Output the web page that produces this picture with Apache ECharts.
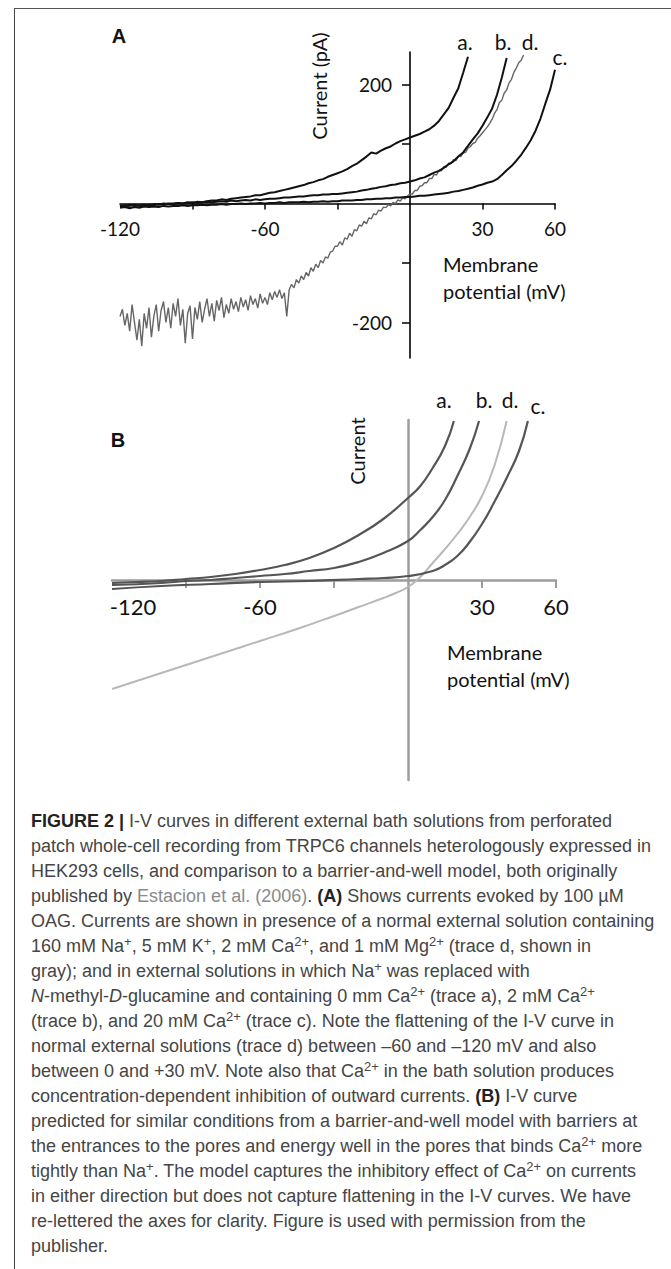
<!DOCTYPE html>
<html><head><meta charset="utf-8">
<script src="https://cdn.jsdelivr.net/npm/echarts@6/dist/echarts.min.js"></script>
<style>
html,body{margin:0;padding:0;background:#fff;}
body{width:671px;height:1269px;position:relative;overflow:hidden;}
#frame{position:absolute;left:14px;top:8px;width:657px;height:1261px;border-top:1px solid #555;border-left:1px solid #444;box-sizing:border-box;}
#chart{position:absolute;left:0;top:0;width:671px;height:790px;}
#cap{position:absolute;left:31px;top:809px;font-family:"Liberation Sans",Arial,sans-serif;font-size:18px;line-height:25px;color:#454545;white-space:nowrap;}
#cap b{color:#222;}
#cap .ref{color:#8a8a8a;}
#cap sup{font-size:0.72em;line-height:0;vertical-align:0.5em;}
</style></head>
<body>
<div id="frame"></div>
<div id="chart"></div>
<div id="cap">
<div><b>FIGURE 2 |</b> I-V curves in different external bath solutions from perforated</div>
<div>patch whole-cell recording from TRPC6 channels heterologously expressed in</div>
<div>HEK293 cells, and comparison to a barrier-and-well model, both originally</div>
<div>published by <span class="ref">Estacion et al. (2006)</span>. <b>(A)</b> Shows currents evoked by 100 µM</div>
<div>OAG. Currents are shown in presence of a normal external solution containing</div>
<div>160 mM Na<sup>+</sup>, 5 mM K<sup>+</sup>, 2 mM Ca<sup>2+</sup>, and 1 mM Mg<sup>2+</sup> (trace d, shown in</div>
<div>gray); and in external solutions in which Na<sup>+</sup> was replaced with</div>
<div><i>N</i>-methyl-<i>D</i>-glucamine and containing 0 mm Ca<sup>2+</sup> (trace a), 2 mM Ca<sup>2+</sup></div>
<div>(trace b), and 20 mM Ca<sup>2+</sup> (trace c). Note the flattening of the I-V curve in</div>
<div>normal external solutions (trace d) between –60 and –120 mV and also</div>
<div>between 0 and +30 mV. Note also that Ca<sup>2+</sup> in the bath solution produces</div>
<div>concentration-dependent inhibition of outward currents. <b>(B)</b> I-V curve</div>
<div>predicted for similar conditions from a barrier-and-well model with barriers at</div>
<div>the entrances to the pores and energy well in the pores that binds Ca<sup>2+</sup> more</div>
<div>tightly than Na<sup>+</sup>. The model captures the inhibitory effect of Ca<sup>2+</sup> on currents</div>
<div>in either direction but does not capture flattening in the I-V curves. We have</div>
<div>re-lettered the axes for clarity. Figure is used with permission from the</div>
<div>publisher.</div>
</div>
<script>
// ---------- Panel A: recorded currents (pA) vs membrane potential (mV) ----------
const voltsA2 = [-120,-118,-116,-114,-112,-110,-108,-106,-104,-102,-100,-98,-96,-94,-92,-90,-88,-86,-84,-82,-80,-78,-76,-74,-72,-70,-68,-66,-64,-62,-60,-58,-56,-54,-52,-50,-48,-46,-44,-42,-40,-38,-36,-34,-32,-30,-28,-26,-24,-22,-20,-18,-16,-14,-12,-10,-8,-6,-4,-2,0,2,4,6,8,10,12,14,16,18,20,22,24,26,28,30,32,34,36,38,40,42,44,46,48,50,52,54,56,58,60];
const traceA_a = [-5,-3,-4,-2,-4,-3,-2,-3,-1,-2, 0,-1,1,0,2,1,3,2,4,5, 5,7,6,8,9,10,11,12,14,14, 16,18,19,21,23,25,27,29,31,34, 36,39,41,45,48,51,54,58,63,67, 73,79,86,84,89,93,96,101,105,108, 111,114,117,121,125,131,139,150,161,178, 194,220,247];
const traceA_b = [-3,-5,-2,-4,-3,-2,-3,-1,-2,0, -1,0,1,0,1,2,1,2,3,2, 3,4,3,5,4,5,6,5,7,6, 7,8,8,9,10,10,11,12,12,13, 14,14,15,15,16,16,17,18,19,20, 22,23,25,26,28,29,31,32,34,35, 37,39,42,44,48,52,55,60,66,71, 79,86,97,108,118,131,145,160,183,212, 245];
const traceA_c = [-7,-6,-8,-6,-7,-5,-6,-5,-6,-4, -5,-4,-4,-3,-4,-3,-3,-2,-3,-2, -2,-1,-2,-1,-1,0,-1,0,0,1, 0,1,1,2,1,2,2,2,3,2, 3,3,4,3,4,4,5,5,5,6, 6,7,7,8,8,9,9,10,10,11, 11,12,13,13,14,15,16,17,18,20, 21,23,25,27,30,32,35,37,41,48, 56,63,72,82,94,107,123,143,168,192, 225];
const voltsA1 = [-120,-119,-118,-117,-116,-115,-114,-113,-112,-111,-110,-109,-108,-107,-106,-105,-104,-103,-102,-101,-100,-99,-98,-97,-96,-95,-94,-93,-92,-91,-90,-89,-88,-87,-86,-85,-84,-83,-82,-81,-80,-79,-78,-77,-76,-75,-74,-73,-72,-71,-70,-69,-68,-67,-66,-65,-64,-63,-62,-61,-60,-59,-58,-57,-56,-55,-54,-53,-52,-51,-50,-49,-48,-47,-46,-45,-44,-43,-42,-41,-40,-39,-38,-37,-36,-35,-34,-33,-32,-31,-30,-29,-28,-27,-26,-25,-24,-23,-22,-21,-20,-19,-18,-17,-16,-15,-14,-13,-12,-11,-10,-9,-8,-7,-6,-5,-4,-3,-2,-1,0,1,2,3,4,5,6,7,8,9,10,11,12,13,14,15,16,17,18,19,20,21,22,23,24,25,26,27,28,29,30,31,32,33,34,35,36,37,38,39,40,41,42,43,44,45,46,47];
const traceA_d = [-190,-178,-205,-185,-215,-170,-200,-230,-195,-240, -185,-210,-175,-225,-190,-170,-215,-180,-165,-200, -175,-210,-168,-190,-160,-205,-178,-235,-185,-172, -228,-175,-195,-165,-200,-178,-160,-190,-168,-198, -163,-180,-158,-192,-170,-185,-160,-178,-165,-182, -158,-174,-162,-180,-155,-170,-160,-176,-152,-168, -158,-170,-150,-162,-148,-158,-145,-160,-150,-190, -145,-136,-142,-128,-134,-122,-128,-116,-122,-108, -114,-102,-108,-96,-100,-90,-92,-82,-80,-72, -72,-64,-70,-58,-60,-50,-55,-44,-46,-36, -38,-30,-34,-24,-26,-17,-19,-11,-13,-6, -7,-2,-4,2,0,6,4,10,8,13, 16,16,22,22,29,30,35,35,42,42, 49,48,56,55,62,61,68,67,74,72, 80,79,85,86,93,96,101,103,110,114, 119,124,129,135,142,152,158,170,174,186, 191,203,209,221,228,237,241,250];

// ---------- Panel B: barrier-and-well model (arbitrary current units) ----------
const modelB_a = [[-120,-3],[-110,-2],[-100,-1],[-90,1],[-80,3],[-70,6],[-60,10],[-50,15],[-40,22],[-30,32],[-20,45],[-10,61],[0,82],[5,94],[10,112],[15,134],[18.6,159]];
const modelB_b = [[-120,-5],[-100,-3],[-90,-1],[-80,0],[-70,2],[-60,4],[-50,6],[-40,9],[-30,12],[-20,18],[-10,27],[0,39],[5,50],[10,63],[15,80],[20,104],[25,131],[28.8,159]];
const modelB_c = [[-120,-9],[-100,-6],[-80,-4],[-60,-2],[-40,-1],[-20,1],[-10,2],[0,4],[10,9],[15,15],[20,24],[25,38],[30,56],[35,78],[40,102],[45,129],[48.6,159]];
const modelB_d = [[-120,-109],[-105,-97],[-90,-85],[-75,-73],[-60,-61],[-45,-49],[-30,-36],[-20,-27],[-10,-18],[-5,-13],[0,-7],[5,3],[10,17],[15,31],[20,46],[25,63],[30,84],[35,114],[40,159]];

// ---------- tick labels ----------
const xTickLabels = [-120, -60, 30, 60];
const xTickMarksA = [-90, -60, -30, 30, 60];
const xTickMarksB = [-90, -60, -30, 30, 60];
const yTickMarksA = [-200, -100, 100, 200];
const yTickLabelsA = [-200, 200];
const traceNames = ['a.', 'b.', 'd.', 'c.'];

const zip = (xs, ys) => ys.map((y, i) => [xs[i], y]);
const FONT = 'Lato, "Open Sans", sans-serif';

// grid geometry (pixels)
const gA = {left: 120, top: 52, width: 435, height: 306};
const gB = {left: 112, top: 420, width: 444, height: 360};
const xA = {min: -120, max: 60}, yA = {min: -260, max: 255};
const xB = {min: -120, max: 60}, yB = {min: -200, max: 160};
// offsets so that the axes cross at zero (labels follow the axis line)
const zeroOffX = (g, ya) => -(g.height * (0 - ya.min) / (ya.max - ya.min));
const zeroOffY = (g, xa) => -(g.width * (0 - xa.min) / (xa.max - xa.min));

const chart = echarts.init(document.getElementById('chart'), null, {renderer: 'svg'});
const lbl = (x, y, t, size, extra) => ({type: 'text', x: x, y: y, style: Object.assign({text: t, fontFamily: FONT, fontSize: size, fill: '#111', textAlign: 'center', textVerticalAlign: 'middle'}, extra || {})});

chart.setOption({
  animation: false,
  grid: [gA, gB],
  xAxis: [
    {gridIndex: 0, type: 'value', min: xA.min, max: xA.max, position: 'bottom', offset: zeroOffX(gA, yA),
     axisLine: {onZero: false, lineStyle: {color: '#000', width: 1.6}},
     axisTick: {show: true, customValues: xTickMarksA, length: 6, lineStyle: {color: '#000', width: 1.5}},
     axisLabel: {customValues: xTickLabels, margin: 15, fontSize: 19, fontFamily: FONT, color: '#111'},
     splitLine: {show: false}},
    {gridIndex: 1, type: 'value', min: xB.min, max: xB.max, position: 'bottom', offset: zeroOffX(gB, yB),
     axisLine: {onZero: false, lineStyle: {color: '#9c9c9c', width: 2.5}},
     axisTick: {show: true, customValues: xTickMarksB, length: 8, lineStyle: {color: '#9c9c9c', width: 2}},
     axisLabel: {customValues: xTickLabels, margin: 15, fontSize: 22, fontFamily: FONT, color: '#111',
       formatter: v => v === -120 ? '{p|-120}' : String(v),
       rich: {p: {fontSize: 22, fontFamily: FONT, color: '#111', padding: [0, 0, 0, 42]}}},
     splitLine: {show: false}}
  ],
  yAxis: [
    {gridIndex: 0, type: 'value', min: yA.min, max: yA.max, position: 'left', offset: zeroOffY(gA, xA),
     axisLine: {onZero: false, lineStyle: {color: '#000', width: 1.6}},
     axisTick: {show: true, customValues: yTickMarksA, length: 8, lineStyle: {color: '#000', width: 1.5}},
     axisLabel: {customValues: yTickLabelsA, margin: 18, fontSize: 19, fontFamily: FONT, color: '#111'},
     splitLine: {show: false}},
    {gridIndex: 1, type: 'value', min: yB.min, max: yB.max, position: 'left', offset: zeroOffY(gB, xB),
     axisLine: {onZero: false, lineStyle: {color: '#9c9c9c', width: 2.5}},
     axisTick: {show: false}, axisLabel: {show: false}, splitLine: {show: false}}
  ],
  series: [
    {type: 'line', xAxisIndex: 0, yAxisIndex: 0, data: zip(voltsA1, traceA_d), showSymbol: false, lineStyle: {color: '#666', width: 1.4}},
    {type: 'line', xAxisIndex: 0, yAxisIndex: 0, data: zip(voltsA2, traceA_a), showSymbol: false, lineStyle: {color: '#111', width: 2}},
    {type: 'line', xAxisIndex: 0, yAxisIndex: 0, data: zip(voltsA2, traceA_b), showSymbol: false, lineStyle: {color: '#111', width: 2}},
    {type: 'line', xAxisIndex: 0, yAxisIndex: 0, data: zip(voltsA2, traceA_c), showSymbol: false, lineStyle: {color: '#111', width: 2}},
    {type: 'line', xAxisIndex: 1, yAxisIndex: 1, data: modelB_d, smooth: true, showSymbol: false, lineStyle: {color: '#b8b8b8', width: 2}},
    {type: 'line', xAxisIndex: 1, yAxisIndex: 1, data: modelB_a, smooth: true, showSymbol: false, lineStyle: {color: '#555', width: 2.2}},
    {type: 'line', xAxisIndex: 1, yAxisIndex: 1, data: modelB_b, smooth: true, showSymbol: false, lineStyle: {color: '#555', width: 2.2}},
    {type: 'line', xAxisIndex: 1, yAxisIndex: 1, data: modelB_c, smooth: true, showSymbol: false, lineStyle: {color: '#555', width: 2.2}}
  ],
  graphic: [
    lbl(119, 36, 'A', 20, {fontFamily: '"Liberation Sans", Arial, sans-serif', fontWeight: 'bold'}),
    lbl(118, 440, 'B', 20, {fontFamily: '"Liberation Sans", Arial, sans-serif', fontWeight: 'bold'}),
    Object.assign(lbl(319, 86, 'Current (pA)', 20), {rotation: Math.PI / 2}),
    Object.assign(lbl(357, 451, 'Current', 20), {rotation: Math.PI / 2}),
    lbl(443, 264, 'Membrane', 20, {textAlign: 'left'}),
    lbl(443, 291, 'potential (mV)', 20, {textAlign: 'left'}),
    lbl(447, 652, 'Membrane', 20, {textAlign: 'left'}),
    lbl(447, 679, 'potential (mV)', 20, {textAlign: 'left'}),
    lbl(465, 41, traceNames[0], 21), lbl(503, 41, traceNames[1], 21), lbl(530, 41, traceNames[2], 21), lbl(560, 56, traceNames[3], 21),
    lbl(444, 399, traceNames[0], 21), lbl(484, 399, traceNames[1], 21), lbl(510, 399, traceNames[2], 21), lbl(538, 405, traceNames[3], 21)
  ]
});
</script>
</body></html>
